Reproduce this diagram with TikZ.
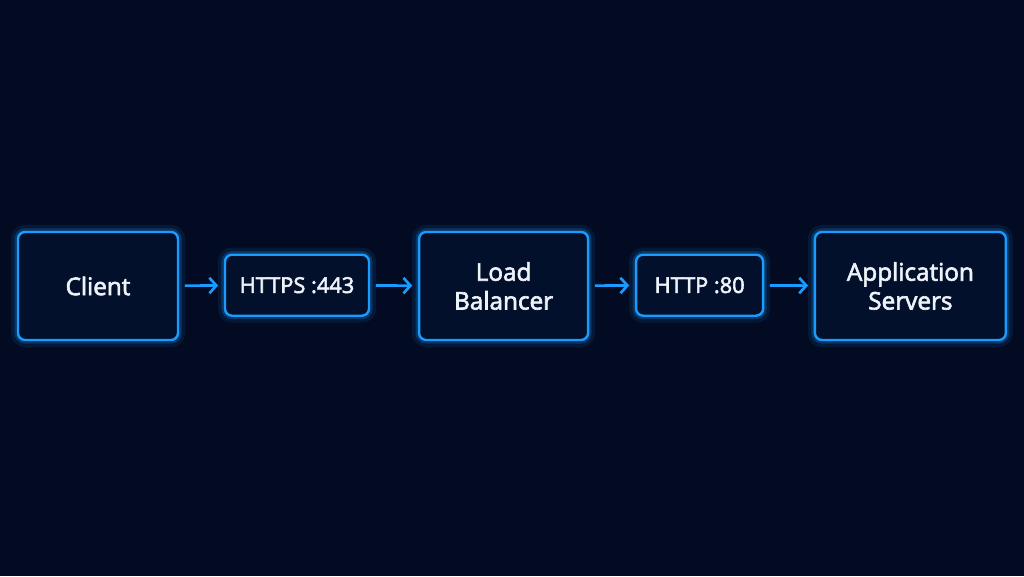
\documentclass[tikz,border=0pt]{standalone}
\usepackage{fontspec}
\setmainfont{Open Sans}[UprightFeatures={FakeBold=2.6}]
\usetikzlibrary{arrows.meta}
\definecolor{bgnavy}{HTML}{020B22}
\definecolor{boxfill}{HTML}{03102B}
\definecolor{glowblue}{HTML}{1A9BFF}
\definecolor{txtwhite}{HTML}{EEF3FA}
\begin{document}
\begin{tikzpicture}[
    stage/.style={draw=glowblue, fill=boxfill, line width=1.7pt, rounded corners=5pt,
      text=txtwhite, align=center, font=\fontsize{17.3}{20.5}\selectfont,
      preaction={draw=glowblue, line width=10pt, opacity=0.1},
      preaction={draw=glowblue, line width=5pt, opacity=0.22}},
    bigbox/.style={stage, minimum width=4cm, minimum height=2.7cm},
    portbox/.style={stage, minimum height=1.525cm, font=\fontsize{15.5}{18}\selectfont},
    flow/.style={-{Straight Barb[length=5pt,width=11pt]}, draw=glowblue, line width=1.9pt,
      shorten <=4pt, shorten >=4pt}
  ]
      \fill[bgnavy] (0,0) rectangle (25.6,14.4);
      \useasboundingbox (0,0) rectangle (25.6,14.4);
      \node[bigbox] (client) at (2.45,7.25) {Client};
      \node[portbox, minimum width=3.6cm] (https) at (7.425,7.27) {HTTPS :443};
      \node[bigbox, minimum width=4.225cm] (lb) at (12.59,7.25) {Load\\Balancer};
      \node[portbox, minimum width=3.175cm] (http) at (17.49,7.27) {HTTP :80};
      \node[bigbox, minimum width=4.775cm] (app) at (22.76,7.25) {Application\\Servers};
      \foreach \a/\b in {client/https, https/lb, lb/http, http/app}
      \draw[flow] (\a) -- (\b);
     \end{tikzpicture}
\end{document}
